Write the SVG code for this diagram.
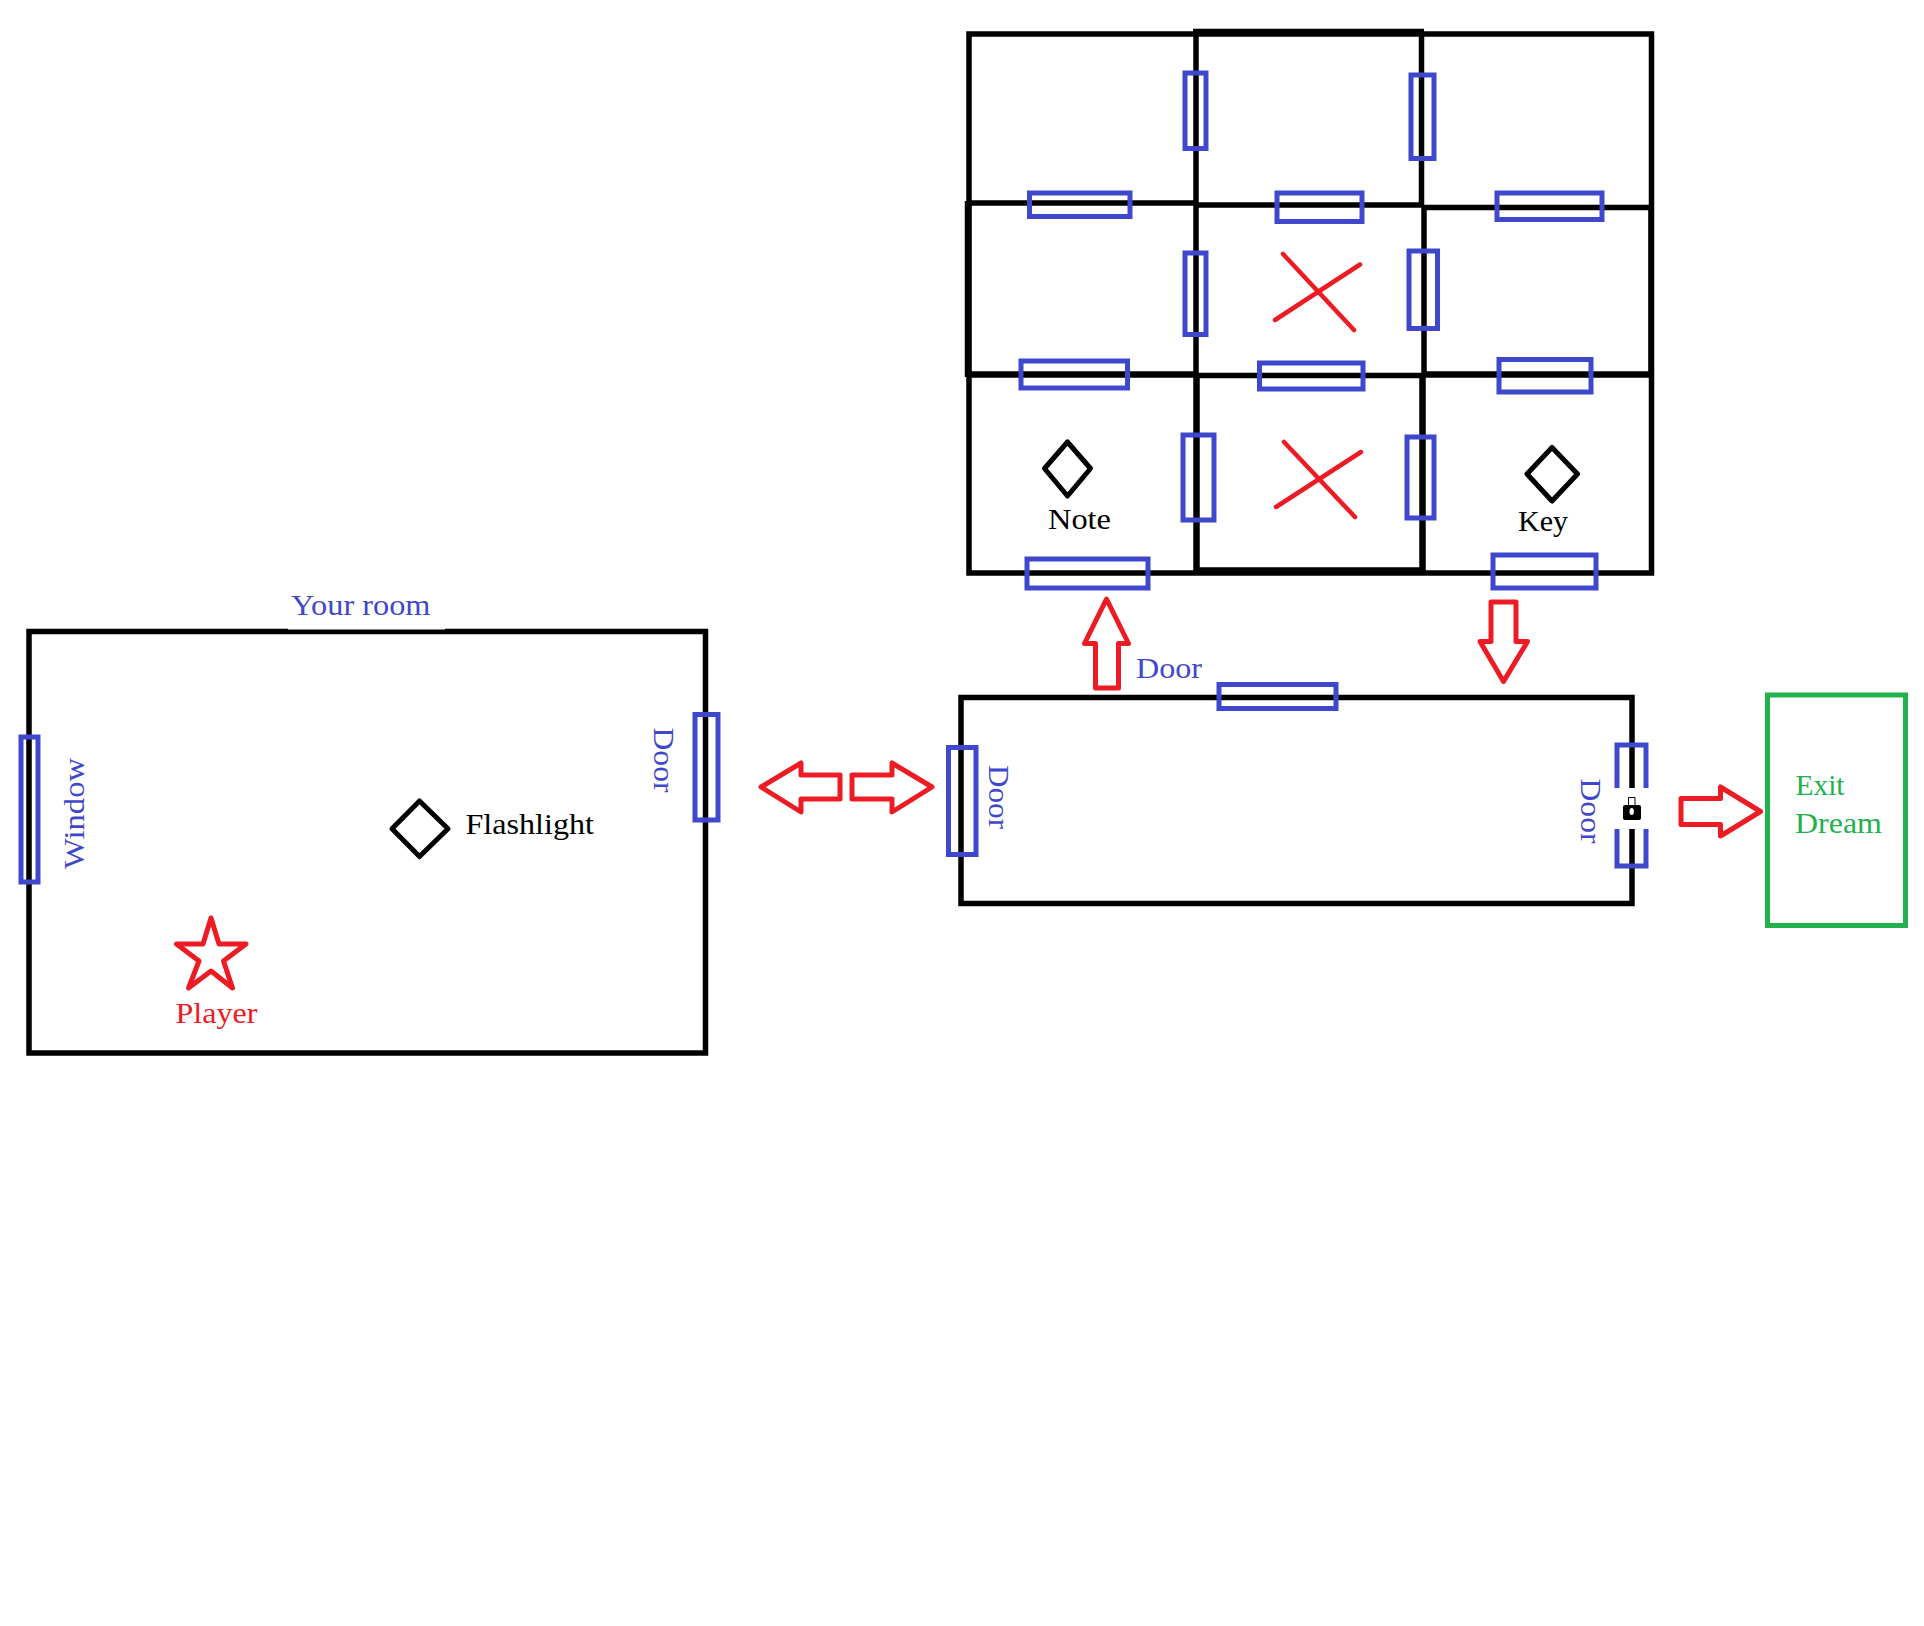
<svg xmlns="http://www.w3.org/2000/svg" width="1924" height="1626" viewBox="0 0 1924 1626">
<style>
.w{fill:none;stroke:#000;stroke-width:5.500}
.t{fill:none;stroke:#000;stroke-width:6.500}
.d{fill:none;stroke:#3f48cc;stroke-width:5}
.a{fill:none;stroke:#ed1c24;stroke-width:5;stroke-linejoin:round}
.x{fill:none;stroke:#ed1c24;stroke-width:4.500;stroke-linecap:round}
.i{fill:none;stroke:#000;stroke-width:5;stroke-linejoin:round}
text{font-family:"Liberation Serif","Times New Roman",serif;font-size:30px}
.b{fill:#3f48cc}.k{fill:#000}.r{fill:#ed1c24}.g{fill:#22b14c}
</style>
<rect width="1924" height="1626" fill="#fff"/>
<g id="upper-rooms">
<path class="w" d="M969 34H1651.500V573H969Z"/>
<path class="t" d="M1193 32H1424M1196 570.500H1424"/>
<path class="w" d="M969 203H1196M1196 205H1422M1422 207.500H1651"/>
<path class="t" d="M968 201V377M968 374.500H1196M1422 374.500H1651"/>
<path class="w" d="M1196 375.500H1424"/>
<path class="w" d="M1196 34V375M1421.500 34V205M1424 207V375M1651 205V375"/>
<path class="t" d="M1196.500 375V573M1422.500 375V573"/>
<rect class="d" x="1185" y="73" width="21" height="75.500"/>
<rect class="d" x="1411" y="75" width="23" height="83.500"/>
<rect class="d" x="1029.500" y="193" width="100.500" height="23.500"/>
<rect class="d" x="1277" y="193" width="85" height="28.500"/>
<rect class="d" x="1497" y="193" width="105" height="26.500"/>
<rect class="d" x="1185" y="253" width="21" height="81.500"/>
<rect class="d" x="1409" y="251" width="28.500" height="77.500"/>
<rect class="d" x="1021" y="361" width="106.500" height="27"/>
<rect class="d" x="1259.500" y="363" width="103.500" height="26"/>
<rect class="d" x="1499" y="359.500" width="92" height="32.500"/>
<rect class="d" x="1183" y="435" width="31" height="85"/>
<rect class="d" x="1407" y="437" width="27" height="81"/>
<rect class="d" x="1027" y="559" width="121" height="29"/>
<rect class="d" x="1493" y="555" width="103" height="33"/>
</g>
<g id="blocked-room-1"><path class="x" d="M1283 254L1354 330M1275 320L1360 264.500"/></g>
<g id="blocked-room-2"><path class="x" d="M1284 442L1355 517M1276 507L1361 452"/></g>
<g id="note">
<path class="i" d="M1067.500 442L1090.500 468.500L1067.500 496L1044.500 468.500Z"/>
<text class="k" x="1048" y="528.500" textLength="63" lengthAdjust="spacingAndGlyphs">Note</text>
</g>
<g id="key">
<path class="i" d="M1552 447.500L1577.500 474L1552 501L1527 474Z"/>
<text class="k" x="1518" y="531" textLength="50" lengthAdjust="spacingAndGlyphs">Key</text>
</g>
<g id="your-room">
<rect class="w" x="29" y="631.500" width="676.500" height="421.500"/>
<rect x="288" y="620" width="157" height="9.500" fill="#fff"/>
<text class="b" x="291" y="614.500" textLength="139.500" lengthAdjust="spacingAndGlyphs">Your room</text>
<rect class="d" x="695" y="714.500" width="23" height="105.500"/>
<rect class="d" x="21" y="737" width="17" height="145"/>
<text class="b" transform="translate(83.500 869) rotate(-90)" textLength="111" lengthAdjust="spacingAndGlyphs">Window</text>
<text class="b" transform="translate(654 727.500) rotate(90)" textLength="65" lengthAdjust="spacingAndGlyphs">Door</text>
</g>
<g id="flashlight">
<path class="i" d="M419.500 801L448 828.700L419.500 856.500L392 828.700Z"/>
<text class="k" x="465.500" y="834" textLength="128.500" lengthAdjust="spacingAndGlyphs">Flashlight</text>
</g>
<g id="player">
<path class="a" d="M211 918L219 944H246L223.500 961L232.500 988L211 971L188.500 988L199 961L176.500 944H203Z"/>
<text class="r" x="175.500" y="1022.500" textLength="82" lengthAdjust="spacingAndGlyphs">Player</text>
</g>
<g id="hallway">
<rect class="w" x="961" y="697.500" width="671" height="206"/>
<rect class="d" x="1219" y="684.500" width="117" height="24"/>
<rect class="d" x="948.500" y="747.500" width="27.500" height="107"/>
<rect class="d" x="1617" y="745" width="29" height="121"/>
<rect x="1610" y="788" width="42" height="41" fill="#fff"/>
<rect x="1623" y="805" width="18" height="15" rx="2" fill="#000"/>
<path d="M1628.500 805V797.500H1635V805" fill="none" stroke="#000" stroke-width="1"/>
<ellipse cx="1631.700" cy="811.500" rx="2.200" ry="3.500" fill="#fff"/>
<text class="b" x="1136" y="677.500" textLength="66" lengthAdjust="spacingAndGlyphs">Door</text>
<text class="b" transform="translate(989 765) rotate(90)" textLength="64" lengthAdjust="spacingAndGlyphs">Door</text>
<text class="b" transform="translate(1581 778.500) rotate(90)" textLength="65" lengthAdjust="spacingAndGlyphs">Door</text>
</g>
<g id="exit-dream">
<rect x="1767.500" y="695" width="138" height="230.500" fill="none" stroke="#22b14c" stroke-width="5"/>
<text class="g" x="1795.500" y="795" textLength="49" lengthAdjust="spacingAndGlyphs">Exit</text>
<text class="g" x="1795" y="833" textLength="87" lengthAdjust="spacingAndGlyphs">Dream</text>
</g>
<g id="connectors">
<path class="a" d="M761 787L801 763V775H840V799H801V812Z"/>
<path class="a" d="M932 787L892 763V775H852V799H892V812Z"/>
<path class="a" d="M1106.500 599L1128.500 643.500H1118.500V688H1095.500V643.500H1084.500Z"/>
<path class="a" d="M1503.500 681.500L1527.500 641.500H1516V602H1491V641.500H1480Z"/>
<path class="a" d="M1760.500 811.500L1720.500 787V798.500H1681V824.500H1720.500V836Z"/>
</g>
</svg>
